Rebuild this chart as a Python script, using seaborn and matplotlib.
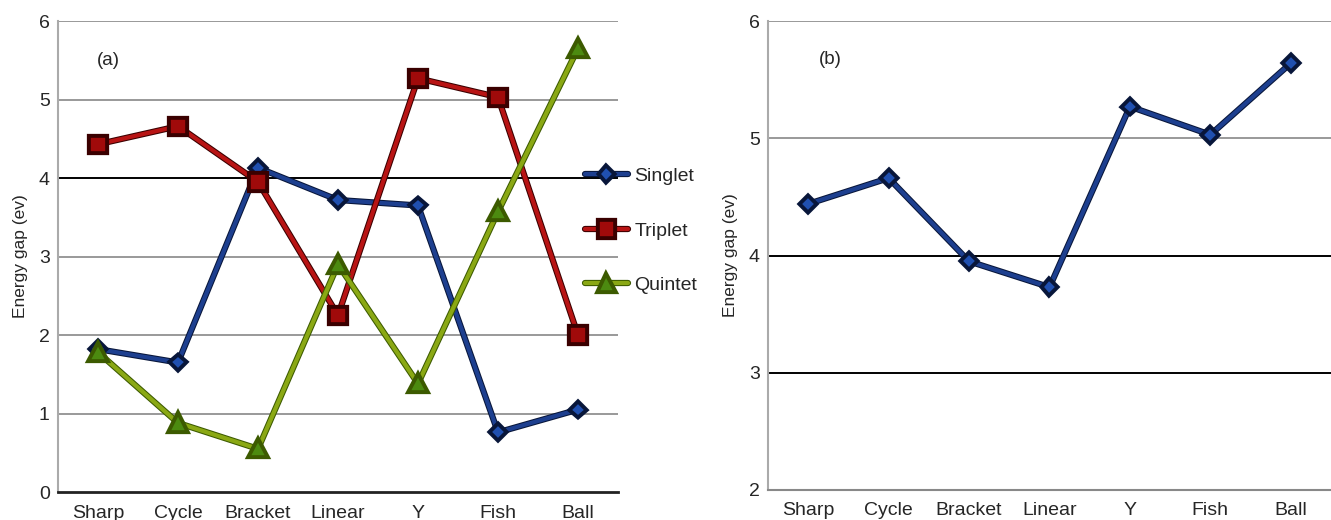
import matplotlib
matplotlib.use("Agg")
import matplotlib.pyplot as plt
import matplotlib.patheffects as pe
import seaborn as sns
import pandas as pd

categories = ["Sharp", "Cycle", "Bracket", "Linear", "Y", "Fish", "Ball"]
singlet = [1.82, 1.65, 4.13, 3.72, 3.65, 0.76, 1.05]
triplet = [4.43, 4.66, 3.95, 2.25, 5.27, 5.03, 2.00]
quintet = [1.78, 0.88, 0.55, 2.90, 1.38, 3.57, 5.65]
best_gap = [4.44, 4.66, 3.95, 3.73, 5.27, 5.03, 5.64]

yticks_a = [0, 1, 2, 3, 4, 5, 6]
yticks_b = [2, 3, 4, 5, 6]

sns.set_theme(style="white")
plt.rcParams["font.family"] = ["Liberation Sans", "DejaVu Sans"]

fig = plt.figure(figsize=(13.31, 5.2), dpi=100)
ax1 = fig.add_axes([0.0436, 0.0538, 0.4207, 0.9058])
ax2 = fig.add_axes([0.577, 0.0577, 0.423, 0.9019])

styles = {
    "Singlet": dict(color="#1d3f8f", edge="#08163a", marker="D", ms=7, mfc="#2050b0"),
    "Triplet": dict(color="#b81414", edge="#3a0000", marker="s", ms=11, mfc="#a00a0a"),
    "Quintet": dict(color="#8aa814", edge="#3c5a00", marker="^", ms=11, mfc="#4c8a10"),
}

df = pd.DataFrame({"Structure": categories, "Singlet": singlet,
                   "Triplet": triplet, "Quintet": quintet, "Best": best_gap})


def draw(ax, col, st, label):
    sns.lineplot(data=df, x="Structure", y=col, ax=ax, sort=False, color=st["color"],
                 lw=3, marker=st["marker"], markersize=st["ms"], markerfacecolor=st["mfc"],
                 markeredgecolor=st["edge"], markeredgewidth=1.2, label=label,
                 path_effects=[pe.Stroke(linewidth=4.5, foreground=st["edge"]), pe.Normal()])


def grid(ax, ticks, black):
    for t in ticks[1:]:
        ax.axhline(t, color="black" if t in black else "#999999", lw=1.4, zorder=0)


for name in ["Singlet", "Triplet", "Quintet"]:
    draw(ax1, name, styles[name], name)
draw(ax2, "Best", styles["Singlet"], None)

for ax, ticks, black in [(ax1, yticks_a, [4]), (ax2, yticks_b, [3, 4])]:
    grid(ax, ticks, black)
    ax.set_xlim(-0.5, 6.5)
    ax.set_ylim(ticks[0], ticks[-1])
    ax.set_yticks(ticks)
    ax.set_xticks(range(len(categories)))
    ax.set_xticklabels(categories)
    ax.set_xlabel("")
    ax.set_ylabel("Energy gap (ev)", fontsize=12.5, labelpad=8)
    ax.tick_params(axis="x", direction="in", length=5, width=1, color="#888888", labelsize=14, pad=9)
    ax.tick_params(axis="y", length=0, labelsize=14, pad=6)
    for s in ["top", "right"]:
        ax.spines[s].set_visible(False)
    ax.spines["left"].set_color("#aaaaaa")
    ax.spines["left"].set_linewidth(1.5)

ax1.spines["bottom"].set_color("#222222")
ax1.spines["bottom"].set_linewidth(2)
ax2.spines["bottom"].set_color("#888888")
ax2.spines["bottom"].set_linewidth(1.5)

ax1.text(0.07, 0.917, "(a)", transform=ax1.transAxes, fontsize=13.5, va="center", ha="left")
ax2.text(0.09, 0.917, "(b)", transform=ax2.transAxes, fontsize=13.5, va="center", ha="left")

leg = ax1.legend(loc="center left", bbox_to_anchor=(585 / 1331, 0.556),
                 bbox_transform=fig.transFigure, frameon=False, fontsize=14,
                 labelspacing=1.9, handlelength=2.2, handletextpad=0.35,
                 borderpad=0, borderaxespad=0)

fig.savefig("out.png", dpi=100)
